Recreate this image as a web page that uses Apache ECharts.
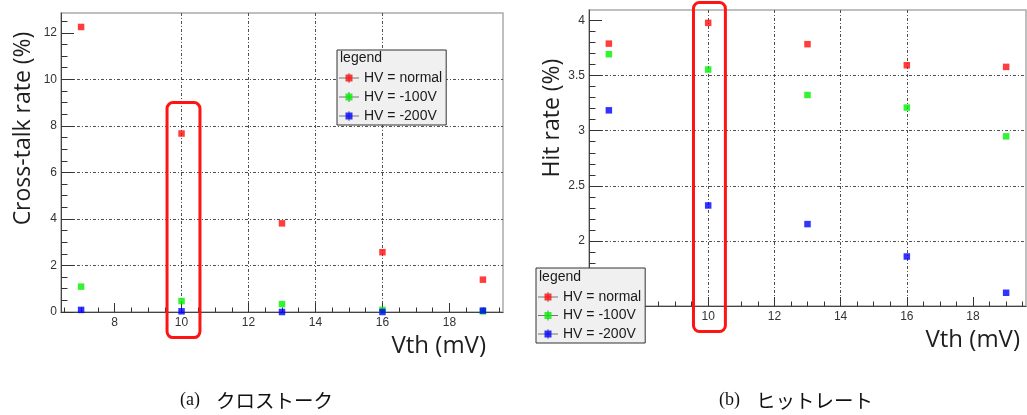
<!DOCTYPE html>
<html>
<head>
<meta charset="utf-8">
<script src="https://cdn.jsdelivr.net/npm/echarts@6/dist/echarts.min.js"></script>
<style>
  html, body { margin: 0; padding: 0; background: #fff; }
  #chart { width: 1027px; height: 415px; }
</style>
</head>
<body>
<div id="chart"></div>
<script>
// Threshold voltages (mV)
const vth = [7, 10, 13, 16, 19];

// (a) cross-talk rate (%)
const crossNormal = [12.25, 7.67, 3.81, 2.57, 1.39];
const cross100 = [1.09, 0.47, 0.34, 0.09, 0.03];
const cross200 = [0.09, 0.03, 0.0, 0.0, 0.06];

// (b) hit rate (%)
const hitNormal = [3.79, 3.978, 3.785, 3.594, 3.579];
const hit100 = [3.694, 3.555, 3.324, 3.21, 2.949];
const hit200 = [3.185, 2.322, 2.153, 1.859, 1.53];

// Axis ranges and tick labels
const vthRange = [6.4, 19.6];
const crossRange = [0, 12.85];
const hitRange = [1.41, 4.095];
const vthTicks = [8, 10, 12, 14, 16, 18];
const crossTicks = [0, 2, 4, 6, 8, 10, 12];
const hitTicks = [1.5, 2, 2.5, 3, 3.5, 4];

// Highlighted threshold (Vth = 10 mV): [x0, x1, y0, y1]
const crossHighlight = [9.567, 10.55, -1.1, 9.0];
const hitHighlight = [9.556, 10.52, 1.179, 4.163];

const seriesNames = ['HV = normal', 'HV = -100V', 'HV = -200V'];
const seriesColors = ['#ff0d0d', '#00f000', '#0000ff'];

// Minor tick positions between the labelled ticks
function minorTicks(range, step, majors) {
  const out = [];
  const start = Math.ceil(range[0] / step) * step;
  for (let v = start; v <= range[1] + 1e-9; v += step) {
    const r = Math.round(v * 1000) / 1000;
    if (majors.indexOf(r) < 0) out.push(r);
  }
  return out;
}

const gridLeft = { left: 61, top: 13, width: 442, height: 299 };
const gridRight = { left: 589, top: 10, width: 437, height: 296 };

const labelFont = { fontFamily: 'Liberation Sans, Arial, sans-serif', fontSize: 12, color: '#333' };
const gridDash = { color: '#505050', width: 1, type: [3, 2, 1, 2] };

function mainX(gridIndex, nameGap) {
  return {
    type: 'value', gridIndex: gridIndex,
    min: vthRange[0], max: vthRange[1], splitNumber: 6,
    axisLine: { show: true, onZero: false, lineStyle: { color: '#444', width: 1 } },
    axisTick: { show: true, inside: true, length: 9, customValues: vthTicks, lineStyle: { color: '#333' } },
    axisLabel: Object.assign({ customValues: vthTicks, margin: 5 }, labelFont),
    splitLine: { show: true, showMinLine: false, showMaxLine: false, lineStyle: gridDash },
    name: 'Vth (mV)', nameLocation: 'end', nameGap: nameGap,
    nameTextStyle: { fontFamily: 'Open Sans', fontSize: 24, color: '#1e1e1e', align: 'right', verticalAlign: 'top', padding: [22, 0, 0, 0] }
  };
}

function mainY(gridIndex, range, ticks, name, nameGap, shift) {
  return {
    type: 'value', gridIndex: gridIndex,
    min: range[0], max: range[1],
    axisLine: { show: true, onZero: false, lineStyle: { color: '#444', width: 1 } },
    axisTick: { show: true, inside: true, length: 13, customValues: ticks, lineStyle: { color: '#333' } },
    axisLabel: Object.assign({ customValues: ticks, margin: 4 }, labelFont),
    splitLine: { show: true, showMinLine: false, showMaxLine: false, lineStyle: gridDash },
    name: name, nameLocation: 'middle', nameGap: nameGap,
    nameTextStyle: { fontFamily: 'Open Sans', fontSize: 23, color: '#1e1e1e', padding: [0, 0, 0, shift] }
  };
}

function minorAxis(gridIndex, range, ticks, len) {
  return {
    type: 'value', gridIndex: gridIndex, min: range[0], max: range[1],
    axisLine: { show: false }, axisLabel: { show: false }, splitLine: { show: false },
    axisTick: { show: true, inside: true, length: len, customValues: ticks, lineStyle: { color: '#333' } }
  };
}

function scatter(name, color, xi, yi, values) {
  return {
    type: 'scatter', name: name, xAxisIndex: xi, yAxisIndex: yi,
    symbol: 'rect', symbolSize: 6.5,
    itemStyle: { color: color },
    data: vth.map((x, i) => [x, values[i]]),
    z: 3
  };
}

function highlight(xi, yi, box) {
  return {
    type: 'custom', xAxisIndex: xi, yAxisIndex: yi, clip: false, silent: true, z: 6,
    dimensions: ['x0', 'x1', 'y0', 'y1'],
    encode: { x: [0, 1], y: [2, 3] },
    data: [box],
    renderItem: function (params, api) {
      const a = api.coord([api.value(0), api.value(3)]);
      const b = api.coord([api.value(1), api.value(2)]);
      return {
        type: 'rect',
        shape: { x: a[0], y: a[1], width: b[0] - a[0], height: b[1] - a[1], r: 6 },
        style: { fill: 'none', stroke: '#ff1414', lineWidth: 3 }
      };
    }
  };
}

const crossIcon = 'path://M0,4.5H20V5.5H0Z M9.5,0H10.5V10H9.5Z';

function legendPair(left, top, padTop, gap) {
  const common = {
    orient: 'vertical', top: top, itemGap: gap, data: seriesNames,
    textStyle: { fontFamily: 'Liberation Sans, Arial, sans-serif', fontSize: 14, lineHeight: 14, color: '#1a1a1a' }
  };
  return [
    Object.assign({}, common, {
      left: left, padding: [padTop, 4, 2, 2],
      backgroundColor: '#f0f0f0', borderColor: '#333', borderWidth: 1,
      icon: crossIcon, itemWidth: 20, itemHeight: 10,
      itemStyle: { color: '#555', borderWidth: 0 }, z: 8
    }),
    Object.assign({}, common, {
      left: left + 6.5, padding: [padTop, 4, 2, 2],
      icon: 'rect', itemWidth: 7, itemHeight: 7,
      textStyle: Object.assign({}, common.textStyle, { color: 'rgba(0,0,0,0)' }), z: 9
    })
  ];
}

const legendLeft = legendPair(337, 50, 21, 5);
const legendRight = legendPair(536, 268, 22, 4.5);

const captionRich = {
  s: { fontFamily: 'Liberation Serif, DejaVu Serif, serif', fontSize: 18, fontWeight: 'normal', color: '#111' },
  g: { fontFamily: 'Liberation Serif, DejaVu Serif, serif', fontSize: 18, fontWeight: 'normal', width: 16 },
  j: { fontFamily: 'Noto Sans CJK JP', fontSize: 19.5, fontWeight: 'normal', color: '#111' }
};
const legendTitleStyle = { fontFamily: 'Liberation Sans, Arial, sans-serif', fontSize: 14, fontWeight: 'normal', color: '#1a1a1a', lineHeight: 14 };

const option = {
  backgroundColor: '#fff',
  animation: false,
  title: [
    { text: 'legend', left: 340, top: 51, padding: 0, z: 10, textStyle: legendTitleStyle },
    { text: 'legend', left: 539, top: 270, padding: 0, z: 10, textStyle: legendTitleStyle },
    { text: '{s|(a)}{g|}{j|クロストーク}', left: 180, top: 391, padding: 0, textStyle: { fontWeight: 'normal', rich: captionRich } },
    { text: '{s|(b)}{g|}{j|ヒットレート}', left: 719, top: 391, padding: 0, textStyle: { fontWeight: 'normal', rich: captionRich } }
  ],
  legend: legendLeft.concat(legendRight),
  grid: [
    Object.assign({ show: true, borderColor: '#aaa', borderWidth: 1.5 }, gridLeft),
    Object.assign({ show: true, borderColor: '#aaa', borderWidth: 1.5 }, gridRight),
    Object.assign({ show: false }, gridLeft),
    Object.assign({ show: false }, gridRight)
  ],
  xAxis: [
    mainX(0, -17),
    mainX(1, -6),
    minorAxis(2, vthRange, minorTicks(vthRange, 0.5, vthTicks), 4.5),
    minorAxis(3, vthRange, minorTicks(vthRange, 0.5, vthTicks), 4.5)
  ],
  yAxis: [
    mainY(0, crossRange, crossTicks, 'Cross-talk rate (%)', 26, 68),
    mainY(1, hitRange, hitTicks, 'Hit rate (%)', 22, 80),
    minorAxis(2, crossRange, minorTicks(crossRange, 0.5, crossTicks), 6.5),
    minorAxis(3, hitRange, minorTicks(hitRange, 0.1, hitTicks), 6.5)
  ],
  series: [
    scatter(seriesNames[0], seriesColors[0], 0, 0, crossNormal),
    scatter(seriesNames[1], seriesColors[1], 0, 0, cross100),
    scatter(seriesNames[2], seriesColors[2], 0, 0, cross200),
    scatter(seriesNames[0], seriesColors[0], 1, 1, hitNormal),
    scatter(seriesNames[1], seriesColors[1], 1, 1, hit100),
    scatter(seriesNames[2], seriesColors[2], 1, 1, hit200),
    highlight(0, 0, crossHighlight),
    highlight(1, 1, hitHighlight)
  ]
};

const chart = echarts.init(document.getElementById('chart'), null, { renderer: 'canvas' });
chart.setOption(option);
</script>
</body>
</html>
